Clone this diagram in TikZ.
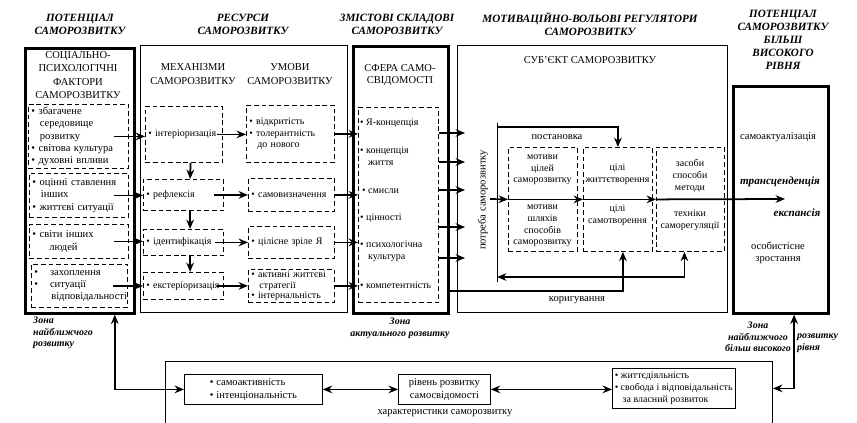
\documentclass[tikz,border=0pt]{standalone}
\usepackage{fontspec}
\setmainfont{Liberation Serif}
\usetikzlibrary{arrows.meta}

\newcommand{\blt}{\textbullet\ }
\newcommand{\ind}{\hspace*{0.8em}}

\begin{document}
\begin{tikzpicture}[x=0.03cm, y=-0.03cm, font=\fontsize{9}{10.5}\selectfont]
\tikzstyle{head} = [font=\fontsize{9.5}{11}\selectfont\bfseries\itshape, align=center, inner sep=0pt]
\tikzstyle{boxtitle} = [font=\fontsize{9}{11.5}\selectfont, align=center, inner sep=0pt]
\tikzstyle{frm} = [rectangle, draw=black, line width=0.8pt, anchor=north west, inner sep=0pt]
\tikzstyle{thickfrm} = [frm, line width=2.2pt]
\tikzstyle{dbox} = [rectangle, draw=black, dash pattern=on 4pt off 2.5pt, line width=0.7pt, anchor=north west, inner xsep=0.09cm, inner ysep=0pt, align=left]
\tikzstyle{sbox} = [rectangle, draw=black, line width=0.7pt, anchor=north west, inner sep=2pt]
\tikzstyle{small} = [font=\fontsize{8.5}{10}\selectfont]
\tikzstyle{txt} = [inner sep=0pt, align=center]
\tikzstyle{sitem} = [small, anchor=west, inner sep=0pt, align=left]
\tikzstyle{bi} = [font=\fontsize{9.5}{11}\selectfont\bfseries\itshape]
\tikzstyle{zone} = [font=\fontsize{8.5}{10}\selectfont\bfseries\itshape, inner sep=0pt]
\tikzstyle{arrow} = [line width=1.5pt,->,>={Stealth[length=8pt,width=6.5pt]}]
\tikzstyle{dblarrow} = [arrow,<->]
\useasboundingbox (0,0) rectangle (857,423);
 % headers and frames
\node (hpot) [head] at (80,24) {ПОТЕНЦІАЛ\\САМОРОЗВИТКУ};
\node (hres) [head] at (243,24) {РЕСУРСИ\\САМОРОЗВИТКУ};
\node (hcont) [head] at (397,24) {ЗМІСТОВІ СКЛАДОВІ\\САМОРОЗВИТКУ};
\node (hmot) [head] at (590,24) {МОТИВАЦІЙНО-ВОЛЬОВІ РЕГУЛЯТОРИ\\САМОРОЗВИТКУ};
\node (hhigh) [head] at (783,40) {ПОТЕНЦІАЛ\\САМОРОЗВИТКУ\\БІЛЬШ\\ВИСОКОГО\\РІВНЯ};
\node (pot) [thickfrm, minimum width=3.27cm, minimum height=7.95cm] at (24,47) {};
\node (res) [frm, minimum width=6.21cm, minimum height=8.01cm] at (140,45) {};
\node (sph) [thickfrm, minimum width=2.85cm, minimum height=8.01cm] at (352,45) {};
\node (subj) [frm, minimum width=8.1cm, minimum height=8.01cm] at (457,45) {};
\node (high) [thickfrm, minimum width=2.85cm, minimum height=6.81cm] at (732,85) {};
\node (chr) [frm, minimum width=18.21cm, minimum height=2.4cm] at (165,361) {};

 % factors
\node (fact) [boxtitle] at (78,75) {СОЦІАЛЬНО-\\ПСИХОЛОГІЧНІ\\ФАКТОРИ\\САМОРОЗВИТКУ};
\node (f1) [dbox, text width=2.82cm, minimum height=1.92cm] at (28,104) {\blt збагачене\\\ind середовище\\\ind розвитку\\\blt світова культура\\\blt духовні впливи};
\node (f2) [dbox, text width=2.79cm, minimum height=1.32cm] at (29,173) {\blt оцінні ставлення\\\ind інших\\\blt життєві ситуації};
\node (f3) [dbox, text width=2.79cm, minimum height=1.02cm] at (29,224) {\blt світи інших\\\ind\ind людей};
\node (f4) [dbox, text width=2.7cm, minimum height=1.29cm] at (31,264) {\blt\ind захоплення\\\blt\ind ситуації\\\ind\ind відповідальності};

 % mechanisms and conditions
\node (hmech) [boxtitle] at (193,74) {МЕХАНІЗМИ\\САМОРОЗВИТКУ};
\node (hcond) [boxtitle] at (290,74) {УМОВИ\\САМОРОЗВИТКУ};
\node (m1) [dbox, small, text width=2.13cm, minimum height=1.68cm] at (145,106) {\blt інтеріоризація};
\node (m2) [dbox, small, text width=2.22cm, minimum height=0.93cm] at (143,179) {\blt рефлексія};
\node (m3) [dbox, small, text width=2.22cm, minimum height=0.78cm] at (143,229) {\blt ідентифікація};
\node (m4) [dbox, small, text width=2.22cm, minimum height=0.81cm] at (143,272) {\blt екстеріоризація};
\node (u1) [dbox, small, text width=2.46cm, minimum height=1.71cm] at (246,105) {\blt відкритість\\\blt толерантність\\\ind до нового};
\node (u2) [dbox, small, text width=2.4cm, minimum height=0.99cm] at (248,178) {\blt самовизначення};
\node (u3) [dbox, small, text width=2.4cm, minimum height=0.96cm] at (248,226) {\blt цілісне зріле Я};
\node (u4) [dbox, font=\fontsize{8.5}{9}\selectfont, text width=2.4cm, minimum height=0.99cm] at (248,269) {\blt активні життєві\\\ind стратегії\\\blt інтернальність};

 % self-consciousness
\node (sfera) [boxtitle, font=\fontsize{9}{10}\selectfont] at (400,75) {СФЕРА САМО-\\СВІДОМОСТІ};
\node (s1) [dbox, minimum width=2.4cm, minimum height=5.85cm] at (358,107) {};
\node (ya) [sitem] at (360,123) {\blt Я-концепція};
\node (life) [sitem] at (360,156) {\blt концепція\\\ind життя};
\node (sens) [sitem] at (362,191) {\blt смисли};
\node (val) [sitem] at (360,218) {\blt цінності};
\node (cult) [sitem] at (360,251) {\blt психологічна\\\ind культура};
\node (comp) [sitem] at (360,285) {\blt компетентність};

 % subject
\node (subt) [boxtitle] at (590,60) {СУБ'ЄКТ САМОРОЗВИТКУ};
\node (need) [rotate=90, inner sep=0pt] at (483,200) {потреба саморозвитку};
\node (mot) [dbox, minimum width=2.07cm, minimum height=3.12cm] at (508,147) {};
\node (goal) [dbox, minimum width=2.07cm, minimum height=3.12cm] at (583,147) {};
\node (tool) [dbox, minimum width=2.04cm, minimum height=3.12cm] at (656,147) {};
\node (mot1) [txt, small] at (542.5,170) {мотиви\\цілей\\саморозвитку};
\node (mot2) [txt, small] at (542.5,226) {мотиви\\шляхів\\способів\\саморозвитку};
\node (goal1) [txt, small] at (617.5,174) {цілі\\життєтворення};
\node (goal2) [txt, small] at (617.5,215) {цілі\\самотворення};
\node (tool1) [txt, small] at (690,176) {засоби\\способи\\методи};
\node (tool2) [txt, small] at (690,220) {техніки\\саморегуляції};
\node (put) [txt] at (557,137) {постановка};
\node (corr) [txt] at (577,300) {коригування};
\coordinate (bt) at (497,123);
\coordinate (bb) at (497,282);
\coordinate (set) at (497,127);
\coordinate (ms) at (490,199);
\coordinate (tr) at (785,199);
\coordinate (back) at (497,277);
\coordinate (cs) at (447,291);
\foreach \y [count=\i] in {133,162,190,227,258}
  \coordinate (p\i) at (465,\y);

 % higher level
\node (sa) [txt] at (778,137) {самоактуалізація};
\node (trans) [txt, bi] at (780,182) {трансценденція};
\node (expn) [txt, bi] at (797,213) {експансія};
\node (grow) [txt] at (778,253) {особистісне\\зростання};

 % characteristics
\node (b1) [sbox, minimum width=4.14cm, minimum height=0.9cm, align=left] at (184,374) {\blt самоактивність\\\blt інтенціональність};
\node (b2) [sbox, minimum width=2.76cm, minimum height=0.9cm, align=center] at (398,374) {рівень розвитку\\самосвідомості};
\node (b3) [sbox, small, minimum width=3.54cm, minimum height=1.2cm, align=left] at (612,368) {\blt життєдіяльність\\\blt свобода і відповідальність\\\ind за власний розвиток};
\node (chl) [txt] at (445,413) {характеристики саморозвитку};

 % zones
\node (z1) [zone, anchor=west, align=left] at (33,333) {Зона\\найближчого\\розвитку};
\node (z2) [zone, align=center] at (400,328) {Зона\\актуального розвитку};
\node (z3) [zone, align=center] at (758,337) {Зона\\найближчого\\більш високого};
\node (z4) [zone, anchor=west, align=left] at (797,343) {розвитку\\рівня};

 % connections
\draw [arrow] ([xshift=-0.45cm]f1.east) -- (f1.east -| m1.west);
\draw [arrow] ([xshift=-0.45cm]f2.east) -- (f2.east -| m2.west);
\draw [arrow] ([xshift=-0.45cm]f3.east) -- (f3.east -| m3.west);
\draw [arrow] ([xshift=-0.45cm]f4.east) -- (f4.east -| m4.west);
\draw [arrow] ([xshift=0.2cm]m1.south) -- ([xshift=0.2cm]m2.north);
\draw [arrow] ([xshift=0.2cm]m2.south) -- ([xshift=0.2cm]m3.north);
\draw [arrow] ([xshift=0.2cm]m3.south) -- ([xshift=0.2cm]m4.north);
\draw [arrow] ([xshift=-0.18cm]m1.east) -- (m1.east -| u1.west);
\draw [arrow] ([xshift=-0.3cm]m2.east) -- (m2.east -| u2.west);
\draw [arrow] ([xshift=-0.25cm]m3.east) -- (m3.east -| u3.west);
\draw [arrow] ([xshift=-0.2cm]m4.east) -- (m4.east -| u4.west);
\draw [arrow] (u1.east) -- (u1.east -| s1.west);
\draw [arrow] (u2.east) -- (u2.east -| s1.west);
\draw [arrow] (u3.east) -- (u3.east -| s1.west);
\draw [arrow] (u4.east) -- (u4.east -| s1.west);
\foreach \i in {1,...,5}
  \draw [arrow] (s1.east |- p\i) -- (p\i);
\draw [line width=0.6pt] (bt) -- (bb);
\draw [arrow] (set) -| (goal.north);
\draw [arrow] (ms) -- (mot.west);
\draw [arrow] (mot.west) -- (goal.west);
\draw [arrow] (goal.west) -- (tool.west);
\draw [arrow] (tool.west) -- (tr);
\draw [arrow] (cs) -| ([xshift=0.15cm]goal.south);
\draw [dblarrow] (back) -| ([xshift=-0.18cm]tool.south);
\draw [dblarrow] (b1) -- (b2);
\draw [dblarrow] (b2.east) -- (b2.east -| b3.west);
\draw [dblarrow] ([xshift=1.05cm]pot.south) |- (b1.west);
\draw [dblarrow] (chr.east |- b3.east) -| ([xshift=0.4cm]high.south);
\end{tikzpicture}
\end{document}
